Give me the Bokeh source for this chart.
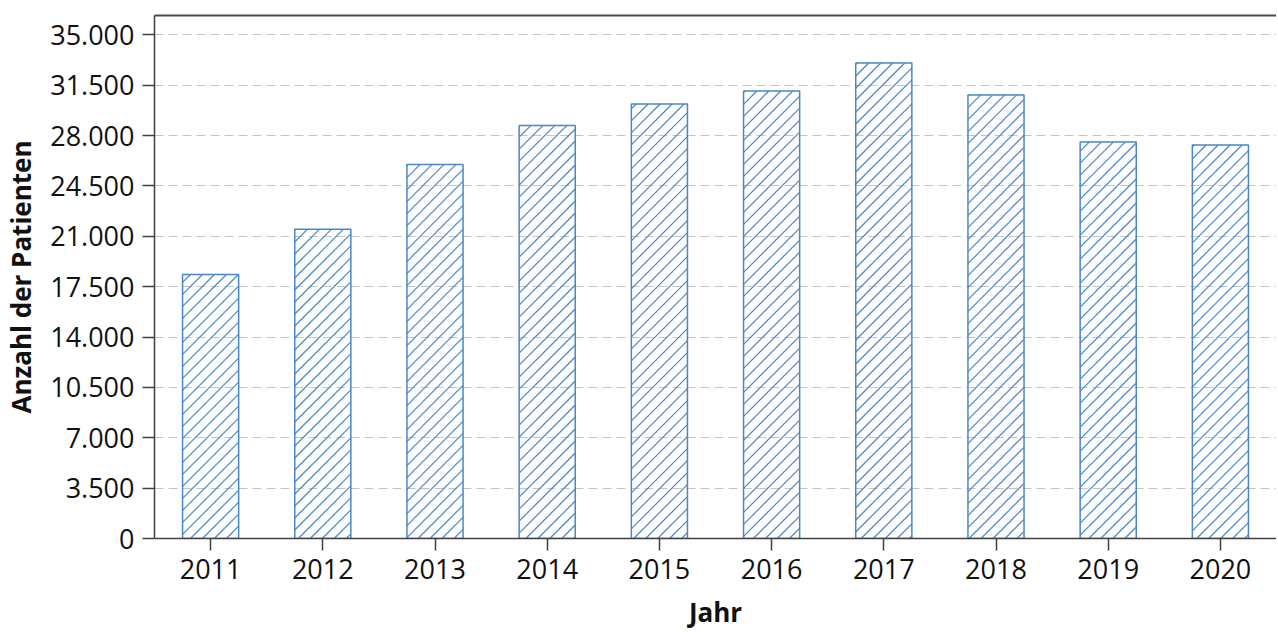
from bokeh.plotting import figure
from bokeh.models import FactorRange, Range1d, FixedTicker, LinearAxis
from bokeh.embed import file_html
from bokeh.resources import INLINE

years = ["2011", "2012", "2013", "2014", "2015", "2016", "2017", "2018", "2019", "2020"]
patients = [18350, 21500, 26000, 28700, 30200, 31100, 33050, 30820, 27550, 27350]
y_ticks = [0, 3500, 7000, 10500, 14000, 17500, 21000, 24500, 28000, 31500, 35000]
y_tick_labels = ["0", "3.500", "7.000", "10.500", "14.000", "17.500", "21.000",
                 "24.500", "28.000", "31.500", "35.000"]

FONT = "Open Sans"
BLUE = "#4a86c8"
AXIS = "#404040"

W, H = 1276, 632
B_LEFT, B_RIGHT, B_TOP, B_BOTTOM = 152, 0, 15, 94
Y_MAX = 36350
BAR_W = 0.5
HATCH_GAP = 12  # px between hatch lines along the horizontal

p = figure(width=W, height=H, x_range=FactorRange(*years, range_padding=0),
           y_range=Range1d(0, Y_MAX), output_backend="svg", toolbar_location=None,
           min_border_left=B_LEFT, min_border_right=B_RIGHT,
           min_border_top=B_TOP, min_border_bottom=B_BOTTOM)

# 45-degree hatch lines, derived from the bar values and the plot's pixel scale
px_x = (W - B_LEFT - B_RIGHT) / len(years)          # px per category
px_y = (H - B_TOP - B_BOTTOM) / Y_MAX               # px per unit
hx, hy = [], []
for i, v in enumerate(patients):
    xl = (i + 0.5 - BAR_W / 2) * px_x
    xr = (i + 0.5 + BAR_W / 2) * px_x
    top = v * px_y
    c = (int((xl - top) // HATCH_GAP) - 1) * HATCH_GAP
    while c < xr:
        lo = max(0.0, xl - c)
        hi = min(top, xr - c)
        if hi > lo:
            hx.append([(c + lo) / px_x, (c + hi) / px_x])
            hy.append([lo / px_y, hi / px_y])
        c += HATCH_GAP
p.multi_line(hx, hy, line_color=BLUE, line_width=1.2)

p.vbar(x=years, top=patients, width=BAR_W, fill_color=None, line_color=BLUE, line_width=1.5)

p.outline_line_color = None
p.xgrid.grid_line_color = None
p.ygrid.grid_line_color = "#c4c4c4"
p.ygrid.grid_line_dash = "9 5"
p.ygrid.grid_line_width = 1.2

p.yaxis.ticker = FixedTicker(ticks=y_ticks)
p.yaxis.major_label_overrides = {t: l for t, l in zip(y_ticks, y_tick_labels)}
p.yaxis.minor_tick_line_color = None

for ax in (p.xaxis[0], p.yaxis[0]):
    ax.axis_line_color = AXIS
    ax.axis_line_width = 1.5
    ax.major_tick_line_color = AXIS
    ax.major_tick_line_width = 1.5
    ax.major_tick_out = 12
    ax.major_tick_in = 0
    ax.major_label_text_font = FONT
    ax.major_label_text_font_size = "27px"
    ax.major_label_text_color = "#111111"
    ax.axis_label_text_font = FONT
    ax.axis_label_text_font_size = "26px"
    ax.axis_label_text_font_style = "bold"
    ax.axis_label_text_color = "#111111"
    ax.major_label_standoff = 8

p.xaxis.axis_label = "Jahr"
p.yaxis.axis_label = "Anzahl der Patienten"
p.xaxis.axis_label_standoff = 12
p.xaxis.major_label_standoff = 8
p.yaxis.axis_label_standoff = 8

top_axis = LinearAxis(ticker=FixedTicker(ticks=[]), axis_line_color="#4d4d4d", axis_line_width=2,
                      major_tick_line_color=None, minor_tick_line_color=None,
                      major_tick_out=0, major_tick_in=0, minor_tick_out=0, major_label_standoff=0)
p.add_layout(top_axis, "above")

open("out.html", "w").write(file_html(p, INLINE))
